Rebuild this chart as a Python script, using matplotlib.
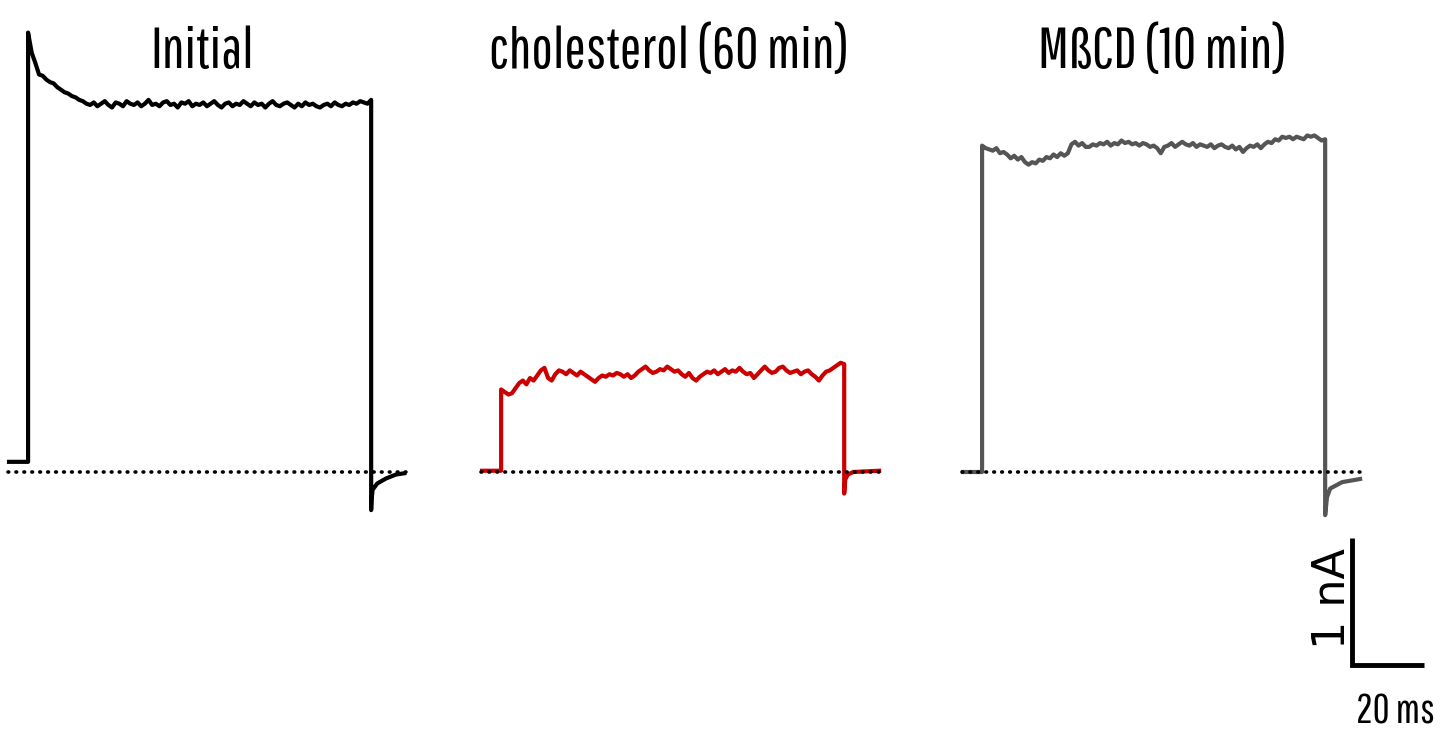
import numpy as np
import matplotlib
matplotlib.use("Agg")
from matplotlib import pyplot as plt

# currents in nA, sampled every ~1 ms during the pulse
pulse_ms = 95.3
onsets = [7.8, 139.2, 272.8]            # ms, where each step starts
names = ['Initial', 'cholesterol (60 min)', 'M\u00dfCD (10 min)']
colors = ['#000000', '#cc0000', '#555555']
holding = [0.08, 0.01, 0.0]

initial = [3.46, 3.30, 3.22, 3.13, 3.12, 3.09, 3.07, 3.06, 3.03, 3.01, 2.99, 2.98,
           2.96, 2.95, 2.93, 2.92, 2.90, 2.89, 2.91, 2.88, 2.90, 2.92, 2.89, 2.87,
           2.91, 2.90, 2.88, 2.92, 2.90, 2.89, 2.91, 2.88, 2.90, 2.93, 2.89, 2.90,
           2.88, 2.91, 2.92, 2.89, 2.90, 2.87, 2.91, 2.90, 2.92, 2.88, 2.90, 2.89,
           2.91, 2.88, 2.90, 2.92, 2.89, 2.87, 2.90, 2.91, 2.88, 2.90, 2.89, 2.92,
           2.90, 2.88, 2.91, 2.89, 2.90, 2.87, 2.90, 2.92, 2.89, 2.88, 2.90, 2.91,
           2.89, 2.87, 2.90, 2.88, 2.91, 2.89, 2.90, 2.88, 2.87, 2.89, 2.90, 2.88,
           2.91, 2.89, 2.88, 2.90, 2.89, 2.91, 2.90, 2.92, 2.91, 2.90, 2.93]
cholesterol = [0.65, 0.63, 0.61, 0.62, 0.66, 0.70, 0.72, 0.69, 0.74, 0.72, 0.76, 0.80,
               0.82, 0.74, 0.72, 0.77, 0.80, 0.79, 0.77, 0.80, 0.78, 0.76, 0.79, 0.77,
               0.75, 0.73, 0.71, 0.74, 0.76, 0.75, 0.77, 0.76, 0.78, 0.77, 0.75, 0.77,
               0.74, 0.76, 0.79, 0.81, 0.83, 0.80, 0.78, 0.79, 0.81, 0.80, 0.83, 0.81,
               0.79, 0.80, 0.77, 0.75, 0.78, 0.74, 0.72, 0.75, 0.77, 0.79, 0.78, 0.80,
               0.77, 0.79, 0.81, 0.78, 0.80, 0.79, 0.82, 0.79, 0.77, 0.78, 0.74, 0.77,
               0.80, 0.83, 0.80, 0.78, 0.79, 0.82, 0.83, 0.80, 0.78, 0.79, 0.80, 0.77,
               0.79, 0.80, 0.77, 0.75, 0.72, 0.76, 0.79, 0.80, 0.82, 0.84, 0.86, 0.85]
mbcd = [2.57, 2.55, 2.54, 2.53, 2.55, 2.51, 2.52, 2.50, 2.47, 2.49, 2.46, 2.48,
        2.44, 2.42, 2.44, 2.43, 2.46, 2.45, 2.48, 2.47, 2.50, 2.48, 2.51, 2.49,
        2.51, 2.58, 2.60, 2.57, 2.59, 2.56, 2.56, 2.58, 2.57, 2.59, 2.58, 2.60,
        2.57, 2.59, 2.58, 2.61, 2.59, 2.60, 2.58, 2.59, 2.57, 2.59, 2.58, 2.56,
        2.57, 2.55, 2.51, 2.56, 2.57, 2.59, 2.56, 2.58, 2.60, 2.58, 2.57, 2.59,
        2.56, 2.58, 2.57, 2.56, 2.58, 2.55, 2.57, 2.58, 2.56, 2.55, 2.57, 2.54,
        2.56, 2.52, 2.55, 2.57, 2.56, 2.58, 2.55, 2.58, 2.60, 2.59, 2.62, 2.61,
        2.64, 2.63, 2.64, 2.62, 2.64, 2.63, 2.62, 2.65, 2.64, 2.65, 2.63, 2.61, 2.62]
pulses = [initial, cholesterol, mbcd]

# tail currents after the step (ms after pulse end, nA)
tail_t = [[0, 0.1, 0.4, 1.7, 4.2, 6.9, 9.2],
          [0, 0.3, 1.0, 2.5, 9.7],
          [0, 0.5, 1.4, 4.7, 9.7]]
tail_i = [[-0.30, -0.22, -0.14, -0.09, -0.05, -0.02, -0.01],
          [-0.17, -0.06, -0.02, 0.0, 0.01],
          [-0.34, -0.20, -0.13, -0.08, -0.055]]

px_ms = 3.6
px_na = 127.0
W, H = 1446, 743
base_px = 472
narrow = ['Pathway Gothic One', 'Roboto Condensed', 'DejaVu Sans']

fig = plt.figure(figsize=(W / 100, H / 100), dpi=100)
ax = fig.add_axes([0, 0, 1, 1])
ax.set_xlim(0, W / px_ms)
ax.set_ylim(-(H - base_px) / px_na, base_px / px_na)
ax.axis('off')

title_x = [202, 669, 1163]
for k in range(3):
    on = onsets[k]
    pt = np.linspace(0, pulse_ms, len(pulses[k]))
    t = np.concatenate([[-5.3, 0], pt, pulse_ms + np.array(tail_t[k])]) + on
    cur = np.concatenate([[holding[k], holding[k]], pulses[k], tail_i[k]])
    ax.plot(t, cur, color=colors[k], lw=3.0, solid_joinstyle='round', zorder=2)
    ax.plot([on - 5.6, on + pulse_ms + 9.6], [0, 0], color='black', lw=2.6,
            linestyle=(0, (0.2, 2.0)), dash_capstyle='round', zorder=3)
    fig.text(title_x[k] / W, 1 - 68 / H, names[k], ha='center', va='baseline',
             fontsize=41, family=narrow)

# scale bar: 20 ms, 1 nA
sx, sy = 1352 / px_ms, (base_px - 665) / px_na
ax.plot([sx + 20, sx, sx], [sy, sy, sy + 1], color='black', lw=3.5,
        solid_capstyle='butt', solid_joinstyle='miter')
ax.text(sx - 5.5, sy + 0.52, '1 nA', rotation=90, ha='center', va='center',
        fontsize=32, family=['DejaVu Sans'])
ax.text(sx + 12, sy - 0.22, '20 ms', ha='center', va='top', fontsize=30,
        family=narrow)

fig.savefig('out.png', dpi=100)
